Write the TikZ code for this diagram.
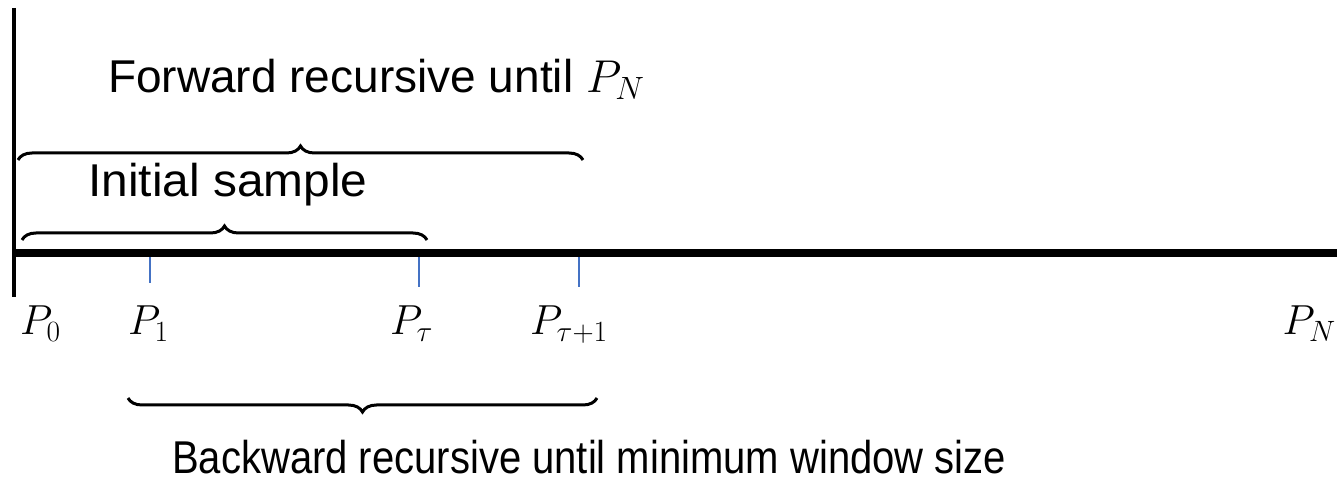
\RequirePackage{fix-cm}
\documentclass[tikz,border=0pt]{standalone}
\usepackage{amsmath}
\usepackage{fontspec}
\setmainfont{Liberation Sans}
\usepackage{xcolor}
\usetikzlibrary{decorations.pathreplacing,positioning}
\definecolor{tickblue}{RGB}{68,114,196}
\newcommand{\bigtxt}{\fontsize{46}{52}\selectfont}
\newcommand{\ptlbl}{\fontsize{42}{48}\selectfont}

\begin{document}
\begin{tikzpicture}[x=1pt,y=1pt,
    tickmark/.style={tickblue,line width=2pt},
    curly/.style={decorate,line width=3pt,
      decoration={brace,amplitude=14pt}},
    curlydown/.style={curly,decoration={brace,mirror,amplitude=14pt}},
    phrase/.style={font=\bigtxt,anchor=base west,inner sep=0pt},
    ptname/.style={font=\ptlbl,anchor=base west,inner sep=0pt}]
  \useasboundingbox (0,0) rectangle (1337,487);
  % axes
  \coordinate (origin) at (14,234);
  \coordinate (ytop) at (14,479);
  \coordinate (ybot) at (14,190);
  \coordinate (xend) at (1340,234);
  \draw[line width=4pt] (ytop) -- (ybot);
  \draw[line width=8pt] (origin) -- (xend);
  % ticks
  \foreach \x/\name/\len in {150/one/26,419/tau/30,579/taunext/30} {
    \coordinate (t\name) at (\x,230);
    \draw[tickmark] (t\name) -- ++(0,-\len);
  }
  % point labels
  \node[ptname] (p0) at (20,152) {$P_0$};
  \node[ptname] (p1) at (128,152) {$P_1$};
  \node[ptname] (ptau) at (390,152) {$P_\tau$};
  \node[ptname] (ptaunext) at (530,152) {$P_{\tau+1}$};
  \node[ptname,anchor=base east] (pN) at (1336,152) {$P_N$};
  % braces
  \coordinate (fwdL) at (18,327);
  \coordinate (fwdR) at (583,327);
  \coordinate (iniL) at (22,247);
  \coordinate (iniR) at (427,247);
  \coordinate (bwdL) at (128,89);
  \coordinate (bwdR) at (597,89);
  \draw[curly] (fwdL) -- (fwdR);
  \draw[curly] (iniL) -- (iniR);
  \draw[curlydown] (bwdL) -- (bwdR);
  % phrases (reference text is slightly condensed)
  \node[phrase] (fwd) at (108,394) {Forward recursive until $P_N$};
  \node[phrase,xscale=1.04,transform shape] (ini) at (88,290) {Initial sample};
  \node[phrase,xscale=0.87,transform shape] (bwd) at (172,14)
    {Backward recursive until minimum window size};
\end{tikzpicture}
\end{document}
